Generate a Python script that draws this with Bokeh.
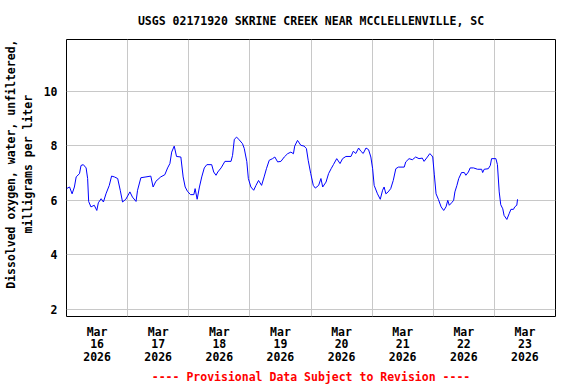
from bokeh.plotting import figure
from bokeh.models import FixedTicker, Range1d, Title, ColumnDataSource
from bokeh.embed import file_html
from bokeh.resources import INLINE

# hours since 2026-03-16 00:00 (EST)
hours = [0.0, 1.2, 2.2, 3.1, 3.8, 5.1, 5.7, 6.6, 7.7, 8.3, 8.7, 9.6, 10.9, 11.9, 12.5, 13.6, 14.5, 15.5, 16.8, 17.7,
         18.8, 20.1, 21.1, 22.0, 23.3, 24.9, 25.9, 27.3, 27.9, 29.2, 31.2, 33.1, 34.0, 35.1, 37.0, 38.6, 39.7, 40.6,
         41.3, 42.3, 43.2, 44.9, 45.8, 46.6, 47.5, 48.7, 50.0, 50.5, 51.3, 52.2, 53.1, 54.1, 55.1, 57.0, 57.8, 58.7,
         59.4, 60.7, 62.2, 64.6, 65.2, 65.9, 66.8, 67.8, 69.1, 69.8, 70.8, 71.4, 72.4, 73.5, 74.4, 75.4, 76.6, 77.6,
         78.5, 79.6, 80.9, 81.8, 82.9, 84.2, 85.5, 86.8, 88.1, 89.1, 89.6, 90.7, 92.0, 93.3, 94.2, 94.9, 95.9, 96.9,
         97.7, 99.0, 99.9, 100.6, 101.9, 102.9, 103.9, 104.8, 106.1, 107.4, 108.4, 109.7, 111.7, 112.6, 113.6, 114.7,
         115.6, 116.5, 117.6, 118.6, 119.5, 120.2, 120.8, 122.1, 123.2, 124.1, 124.7, 125.4, 126.3, 127.3, 128.3,
         129.3, 130.3, 132.6, 133.2, 134.5, 135.8, 137.1, 138.4, 139.7, 140.4, 141.7, 142.6, 143.1, 143.8, 144.4,
         145.1, 146.0, 147.1, 148.1, 149.0, 149.7, 150.3, 151.2, 152.0, 152.5, 153.3, 154.0, 155.1, 156.2, 156.8,
         157.8, 158.5, 159.8, 161.4, 163.0, 163.4, 164.0, 165.6, 166.4, 166.9, 168.6, 169.2, 169.9, 170.5, 171.3,
         171.8, 172.9, 173.8, 174.5, 175.5, 176.0, 176.8, 177.1]
do_mgl = [6.43, 6.49, 6.24, 6.49, 6.86, 6.98, 7.28, 7.31, 7.19, 6.80, 5.96, 5.76, 5.82, 5.63, 5.91, 6.06, 5.94, 6.24,
          6.55, 6.89, 6.86, 6.80, 6.37, 5.94, 6.04, 6.31, 6.12, 5.96, 6.37, 6.83, 6.86, 6.89, 6.49, 6.70, 6.86, 6.94,
          7.19, 7.35, 7.77, 7.99, 7.61, 7.59, 6.86, 6.49, 6.33, 6.21, 6.21, 6.43, 6.04, 6.49, 6.86, 7.19, 7.31, 7.31,
          7.04, 6.92, 7.04, 7.19, 7.43, 7.43, 7.65, 8.24, 8.32, 8.22, 8.08, 7.90, 7.42, 6.80, 6.49, 6.37, 6.55, 6.73,
          6.55, 6.86, 7.16, 7.47, 7.53, 7.59, 7.41, 7.43, 7.59, 7.71, 7.77, 7.71, 7.99, 8.20, 8.02, 7.99, 7.90, 7.47,
          6.98, 6.55, 6.45, 6.55, 6.80, 6.49, 6.67, 6.98, 7.16, 7.31, 7.53, 7.35, 7.53, 7.61, 7.61, 7.80, 7.72, 7.92,
          7.80, 7.72, 7.92, 7.86, 7.59, 7.16, 6.55, 6.24, 6.04, 6.37, 6.49, 6.24, 6.31, 6.43, 6.73, 7.16, 7.22, 7.22,
          7.41, 7.53, 7.49, 7.59, 7.53, 7.55, 7.43, 7.59, 7.71, 7.68, 7.59, 6.96, 6.24, 6.04, 5.76, 5.63, 5.76, 6.00,
          5.82, 5.91, 6.00, 6.31, 6.55, 6.80, 7.02, 7.02, 6.92, 7.04, 7.19, 7.19, 7.14, 7.14, 7.02, 7.14, 7.16, 7.28,
          7.53, 7.53, 7.31, 6.31, 5.84, 5.69, 5.45, 5.30, 5.51, 5.67, 5.67, 5.76, 5.82, 6.04]

tick_month = "Mar"
tick_days = ["16", "17", "18", "19", "20", "21", "22", "23"]
tick_year = "2026"
y_ticks = [2, 4, 6, 8, 10]

FONT = "DejaVu Sans Mono"
FS = "11.5px"

label_ticks = [12 + 24 * i for i in range(len(tick_days))]
grid_ticks = [24 * i for i in range(1, len(tick_days))]

p = figure(width=576, height=384, output_backend="svg", toolbar_location=None,
           x_range=Range1d(0, 192), y_range=Range1d(1.74, 11.9),
           min_border_left=64, min_border_right=21, min_border_top=39, min_border_bottom=68,
           background_fill_color="white", border_fill_color="white")

p.title.text = "USGS 02171920 SKRINE CREEK NEAR MCCLELLENVILLE, SC"
p.title.align = "center"
p.title.text_font = FONT
p.title.text_font_size = FS
p.title.text_font_style = "bold"
p.title.text_color = "black"
p.title.standoff = 23

p.outline_line_color = "black"
p.outline_line_width = 1

src = ColumnDataSource(dict(h=hours, v=do_mgl))
p.line("h", "v", source=src, line_color="#0000ff", line_width=1)

p.xaxis.ticker = FixedTicker(ticks=label_ticks)
p.xaxis.major_label_overrides = {t: f"{tick_month}\n{d}\n{tick_year}" for t, d in zip(label_ticks, tick_days)}
p.xgrid.ticker = FixedTicker(ticks=grid_ticks)
p.yaxis.ticker = FixedTicker(ticks=y_ticks)
p.ygrid.ticker = FixedTicker(ticks=y_ticks)

for ax in (p.xaxis[0], p.yaxis[0]):
    ax.axis_line_color = None
    ax.major_tick_line_color = None
    ax.minor_tick_line_color = None
    ax.major_tick_out = 0
    ax.major_tick_in = 0
    ax.minor_tick_out = 0
    ax.minor_tick_in = 0
    ax.major_label_text_font = FONT
    ax.major_label_text_font_size = FS
    ax.major_label_text_font_style = "bold"
    ax.major_label_text_color = "black"
    ax.axis_label_text_font = FONT
    ax.axis_label_text_font_size = FS
    ax.axis_label_text_font_style = "bold"
    ax.axis_label_text_color = "black"

p.xaxis.major_label_standoff = 8
p.xaxis.major_label_text_line_height = 0.9
p.yaxis.major_label_standoff = 9
nb = "\u00a0" * 4
p.yaxis.axis_label = nb + "Dissolved oxygen, water, unfiltered,\n" + nb + "milligrams per liter"
p.yaxis.axis_label_standoff = 6

for g in (p.xgrid[0], p.ygrid[0]):
    g.grid_line_color = "#c8c8c8"
    g.grid_line_width = 1
    g.grid_line_alpha = 1

p.add_layout(Title(text="---- Provisional Data Subject to Revision ----", align="center", standoff=2,
                   text_color="red", text_font=FONT, text_font_size=FS, text_font_style="bold"), "below")

open("out.html", "w").write(file_html(p, INLINE))
